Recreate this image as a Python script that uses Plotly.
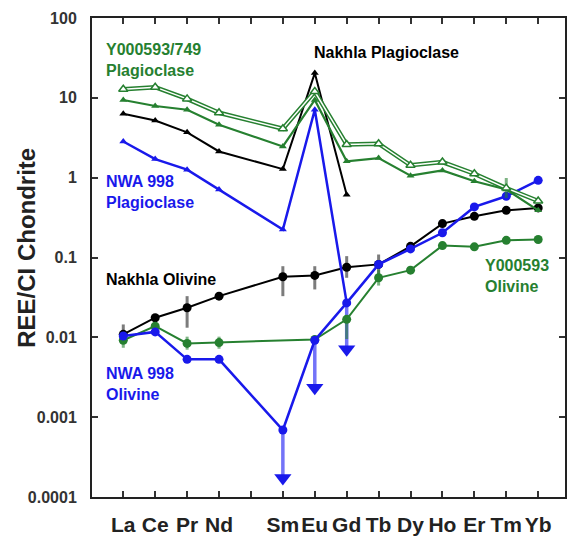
import plotly.graph_objects as go

# ---------------- data ----------------
elements = ["La", "Ce", "Pr", "Nd", "Pm", "Sm", "Eu", "Gd", "Tb", "Dy", "Ho", "Er", "Tm", "Yb"]
tick_labels = ["La", "Ce", "Pr", "Nd", "", "Sm", "Eu", "Gd", "Tb", "Dy", "Ho", "Er", "Tm", "Yb"]
xpos = list(range(1, len(elements) + 1))

y749_plag = [12.8, 13.6, 9.7, 6.5, None, 4.1, 12.0, 2.6, 2.66, 1.43, 1.57, 1.12, 0.74, 0.51]
y593_plag = [9.4, 7.9, 7.1, 4.6, None, 2.46, 9.4, 1.6, 1.76, 1.06, 1.23, 0.90, 0.71, 0.39]
nakhla_plag = [6.3, 5.2, 3.7, 2.13, None, 1.28, 20.4, 0.61, None, None, None, None, None, None]
nwa_plag = [2.84, 1.71, 1.26, 0.71, None, 0.224, 7.1, 0.027, None, None, None, None, None, None]

nakhla_oliv = [0.0109, 0.0176, 0.0235, 0.0328, None, 0.0574, 0.0596, 0.0755, 0.082, 0.138, 0.266, 0.328, 0.39, 0.418]
nakhla_oliv_hi = [0.0145, None, 0.0328, None, None, 0.0778, 0.0778, 0.104, 0.109, None, None, None, None, None]
nakhla_oliv_lo = [0.0087, None, 0.0132, None, None, 0.0328, 0.0398, 0.0557, 0.0584, None, None, None, None, None]

nwa_oliv = [0.0104, 0.0117, 0.0053, 0.0053, None, 0.00069, 0.0092, 0.027, 0.082, 0.128, 0.204, 0.43, 0.585, 0.925]
y593_oliv = [0.0092, 0.0138, 0.0084, 0.0086, None, None, 0.0094, 0.0168, 0.0557, 0.0694, 0.141, 0.136, 0.164, 0.168]
y593_oliv_hi = [0.0108, None, 0.0102, 0.0102, None, None, None, None, 0.070, None, None, None, None, None]
y593_oliv_lo = [0.0074, None, 0.0070, 0.0072, None, None, None, 0.0095, 0.0445, None, None, None, None, None]

y749_plag_hi = [None] * 12 + [0.99, None]
y749_plag_lo = [None] * 12 + [0.557, None]

# upper limits (arrows) for NWA 998 olivine
arrow_elems = ["Sm", "Eu", "Gd"]
arrow_heads = [0.000173, 0.00234, 0.0071]

GREEN = "rgb(38,128,48)"
BLUE = "rgb(25,25,235)"
BLACK = "black"


def err(vals, hi, lo):
    plus, minus = [], []
    for v, h, l in zip(vals, hi, lo):
        plus.append((h - v) if (v is not None and h is not None) else 0)
        minus.append((v - l) if (v is not None and l is not None) else 0)
    return plus, minus


fig = go.Figure()

# arrows (shafts + heads)
shaft_x, shaft_y = [], []
head_x = []
for el, hv in zip(arrow_elems, arrow_heads):
    i = elements.index(el)
    shaft_x += [xpos[i], xpos[i], None]
    shaft_y += [nwa_oliv[i], hv, None]
    head_x.append(xpos[i])
fig.add_trace(go.Scatter(x=shaft_x, y=shaft_y, mode="lines",
                         line=dict(color="rgba(40,40,245,0.65)", width=3.5), showlegend=False))
fig.add_trace(go.Scatter(x=head_x, y=arrow_heads, mode="markers",
                         marker=dict(symbol="triangle-down", size=15, color=BLUE), showlegend=False))

# olivine series
p, m = err(nakhla_oliv, nakhla_oliv_hi, nakhla_oliv_lo)
fig.add_trace(go.Scatter(x=xpos, y=nakhla_oliv, mode="lines+markers", connectgaps=True,
                         line=dict(color=BLACK, width=2),
                         marker=dict(symbol="circle", size=9, color=BLACK),
                         error_y=dict(type="data", symmetric=False, array=p, arrayminus=m,
                                      color="rgba(80,80,80,0.75)", thickness=3, width=0),
                         showlegend=False))
p, m = err(y593_oliv, y593_oliv_hi, y593_oliv_lo)
fig.add_trace(go.Scatter(x=xpos, y=y593_oliv, mode="lines+markers", connectgaps=True,
                         line=dict(color=GREEN, width=2),
                         marker=dict(symbol="circle", size=9, color=GREEN),
                         error_y=dict(type="data", symmetric=False, array=p, arrayminus=m,
                                      color="rgba(38,128,48,0.6)", thickness=3, width=0),
                         showlegend=False))
fig.add_trace(go.Scatter(x=xpos, y=nwa_oliv, mode="lines+markers", connectgaps=True,
                         line=dict(color=BLUE, width=2.5),
                         marker=dict(symbol="circle", size=9, color=BLUE), showlegend=False))

# plagioclase series
fig.add_trace(go.Scatter(x=xpos, y=nwa_plag, mode="lines+markers", connectgaps=True,
                         line=dict(color=BLUE, width=2.5),
                         marker=dict(symbol="triangle-up", size=7, color=BLUE), showlegend=False))
fig.add_trace(go.Scatter(x=xpos, y=nakhla_plag, mode="lines+markers", connectgaps=True,
                         line=dict(color=BLACK, width=2),
                         marker=dict(symbol="triangle-up", size=7, color=BLACK), showlegend=False))
fig.add_trace(go.Scatter(x=xpos, y=y593_plag, mode="lines+markers", connectgaps=True,
                         line=dict(color=GREEN, width=2.2),
                         marker=dict(symbol="triangle-up", size=7, color=GREEN), showlegend=False))
p, m = err(y749_plag, y749_plag_hi, y749_plag_lo)
fig.add_trace(go.Scatter(x=xpos, y=y749_plag, mode="lines", connectgaps=True,
                         line=dict(color=GREEN, width=4.5),
                         error_y=dict(type="data", symmetric=False, array=p, arrayminus=m,
                                      color="rgba(38,128,48,0.6)", thickness=3, width=0),
                         showlegend=False))
fig.add_trace(go.Scatter(x=xpos, y=y749_plag, mode="lines+markers", connectgaps=True,
                         line=dict(color="white", width=1.5),
                         marker=dict(symbol="triangle-up", size=8, color="white",
                                     line=dict(color=GREEN, width=1.5)),
                         showlegend=False))

# ---------------- layout ----------------
W, H = 571, 540
L, R, T, B = 92, 567, 18, 498


def px(xp):
    return (xp - L) / (R - L)


def py(yp):
    return (B - yp) / (B - T)


FONT = "Arial, Liberation Sans, Helvetica, sans-serif"
labels = [
    ("Y000593/749<br>Plagioclase", 104, 60, GREEN),
    ("Nakhla Plagioclase", 313, 53, BLACK),
    ("NWA 998<br>Plagioclase", 104, 192, BLUE),
    ("Nakhla Olivine", 104, 280, BLACK),
    ("NWA 998<br>Olivine", 104, 385, BLUE),
    ("Y000593<br>Olivine", 485, 277, GREEN),
]
annotations = []
for txt, xx, yy, col in labels:
    annotations.append(dict(text="<b>%s</b>" % txt, x=px(xx), y=py(yy), xref="paper", yref="paper",
                            xanchor="left", yanchor="middle", align="left", showarrow=False,
                            font=dict(family=FONT, size=16, color=col)))
annotations.append(dict(text="<b>REE/CI Chondrite</b>", x=px(26), y=py(248), xref="paper", yref="paper",
                        xanchor="center", yanchor="middle", textangle=-90, showarrow=False,
                        font=dict(family=FONT, size=24, color="#222")))

fig.update_layout(
    width=W, height=H,
    margin=dict(l=L, r=W - R, t=T, b=H - B),
    paper_bgcolor="white", plot_bgcolor="white",
    annotations=annotations,
    xaxis=dict(range=[0.02, 14.84], tickmode="array", tickvals=xpos, ticktext=["<b>%s</b>" % t for t in tick_labels],
               tickangle=0,
               ticks="inside", ticklen=6, tickwidth=1.5, tickcolor="#333",
               showline=True, linecolor="#222", linewidth=2, mirror="ticks",
               showgrid=False, zeroline=False, ticklabelstandoff=8,
               tickfont=dict(family=FONT, size=21, color="#222")),
    yaxis=dict(type="log", range=[-4, 2], tickmode="array",
               tickvals=[0.0001, 0.001, 0.01, 0.1, 1, 10, 100],
               ticktext=["<b>0.0001</b>", "<b>0.001</b>", "<b>0.01</b>", "<b>0.1</b>", "<b>1</b>", "<b>10</b>", "<b>100</b>"],
               ticks="inside", ticklen=6, tickwidth=1.5, tickcolor="#333",
               showline=True, linecolor="#222", linewidth=2, mirror="ticks",
               showgrid=False, zeroline=False, ticklabelstandoff=10,
               tickfont=dict(family=FONT, size=16, color="#333")),
)

fig.write_html("out.html")
